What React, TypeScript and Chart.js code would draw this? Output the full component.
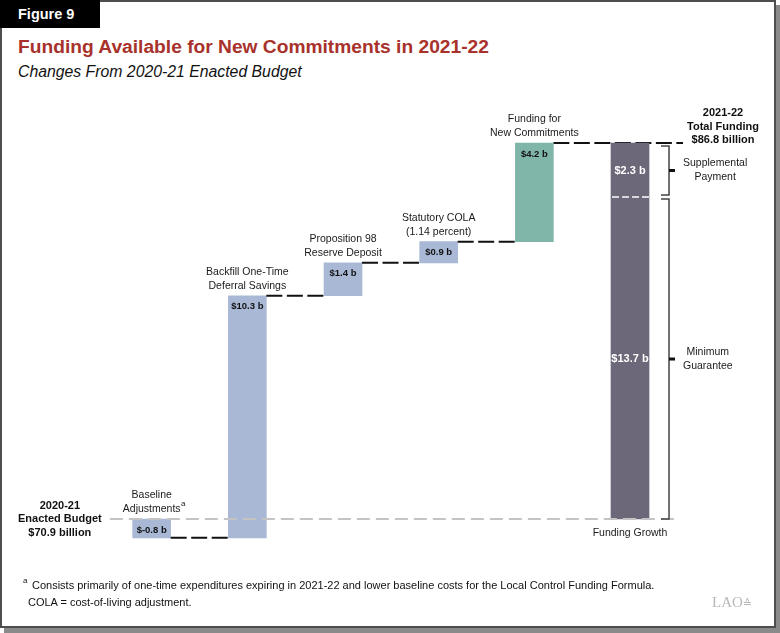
import React, { useEffect, useRef } from 'react';
import { Chart, registerables } from 'chart.js';

Chart.register(...registerables);

// ---------- data ----------
const categories = [
  'Baseline Adjustments',
  'Backfill One-Time Deferral Savings',
  'Proposition 98 Reserve Deposit',
  'Statutory COLA (1.14 percent)',
  'Funding for New Commitments',
  'Funding Growth',
];
const categoryLabelLines = [
  ['Baseline', 'Adjustments'],
  ['Backfill One-Time', 'Deferral Savings'],
  ['Proposition 98', 'Reserve Deposit'],
  ['Statutory COLA', '(1.14 percent)'],
  ['Funding for', 'New Commitments'],
  ['Funding Growth'],
];
const startingTotal = 70.9;
const changeValues = [-0.8, 10.3, 1.4, 0.9, 4.2];
const changeLabels = ['$-0.8 b', '$10.3 b', '$1.4 b', '$0.9 b', '$4.2 b'];
const growthComponents = ['Minimum Guarantee', 'Supplemental Payment'];
const growthValues = [13.7, 2.3];
const growthLabels = ['$13.7 b', '$2.3 b'];
const bracketLabelLines = [
  ['Minimum', 'Guarantee'],
  ['Supplemental', 'Payment'],
];
const startLabelLines = ['2020-21', 'Enacted Budget', '$70.9 billion'];
const endLabelLines = ['2021-22', 'Total Funding', '$86.8 billion'];
const yMin = 69;
const yMax = 89;

// ---------- derived floating bars ----------
let running = startingTotal;
const changeBars: [number, number][] = changeValues.map((v) => {
  const s = running;
  running = Math.round((running + v) * 100) / 100;
  return [s, running];
});
let growthRunning = startingTotal;
const growthBars: [number, number][] = growthValues.map((v) => {
  const s = growthRunning;
  growthRunning = Math.round((growthRunning + v) * 100) / 100;
  return [s, growthRunning];
});

const LIGHT = '#a9b8d5';
const TEAL = '#80b6aa';
const DARK = '#6d6879';
const SANS = '"Liberation Sans", Arial, Helvetica, sans-serif';

function dashed(ctx: any, x1: number, y1: number, x2: number, y2: number, color: string, width: number, dash: number[]) {
  ctx.save();
  ctx.strokeStyle = color;
  ctx.lineWidth = width;
  ctx.setLineDash(dash);
  ctx.lineCap = 'butt';
  ctx.beginPath();
  ctx.moveTo(x1, y1);
  ctx.lineTo(x2, y2);
  ctx.stroke();
  ctx.restore();
}

const decorPlugin = {
  id: 'waterfallDecor',
  beforeDatasetsDraw(chart: any) {
    const { ctx, scales } = chart;
    const x = scales.x;
    const y = scales.y;
    const meta = chart.getDatasetMeta(0);
    const half = meta.data[0].width / 2;
    const xc = (i: number) => x.getPixelForValue(i);
    const lvl = y.getPixelForValue(changeBars[4][1]);
    dashed(ctx, xc(4) + half, lvl, xc(5) + half + 34, lvl, '#111', 2, [16, 4.5]);
  },
  afterDatasetsDraw(chart: any) {
    const { ctx, scales, chartArea } = chart;
    const x = scales.x;
    const y = scales.y;
    const meta = chart.getDatasetMeta(0);
    const half = meta.data[0].width / 2;
    const xc = (i: number) => x.getPixelForValue(i);
    const y0 = y.getPixelForValue(startingTotal);

    for (let i = 0; i < changeBars.length - 1; i++) {
      const lvl = y.getPixelForValue(changeBars[i][1]);
      dashed(ctx, xc(i) + half, lvl, xc(i + 1) - half, lvl, '#111', 2, [16, 4.5]);
    }

    dashed(ctx, chartArea.left + 6, y0, xc(5) + 47, y0, '#c4c4c4', 2, [13, 6]);

    const yDiv = y.getPixelForValue(growthBars[0][1]);
    dashed(ctx, xc(5) - half + 1, yDiv, xc(5) + half, yDiv, '#d8d8de', 2, [7, 3]);

    ctx.save();
    ctx.textAlign = 'center';
    ctx.textBaseline = 'middle';

    ctx.font = `bold 9.5px ${SANS}`;
    ctx.fillStyle = '#111';
    changeBars.forEach((b, i) => {
      const top = y.getPixelForValue(Math.max(b[0], b[1]));
      ctx.fillText(changeLabels[i], xc(i), top + 11);
    });

    ctx.font = `bold 11px ${SANS}`;
    ctx.fillStyle = '#ffffff';
    growthBars.forEach((b, i) => {
      const mid = (y.getPixelForValue(b[0]) + y.getPixelForValue(b[1])) / 2;
      ctx.fillText(growthLabels[i], xc(5), mid + 1);
    });

    ctx.font = `10.5px ${SANS}`;
    ctx.fillStyle = '#1a1a1a';
    changeBars.forEach((b, i) => {
      const top = y.getPixelForValue(Math.max(b[0], b[1]));
      const lines = categoryLabelLines[i];
      lines.forEach((ln, j) => {
        const ly = top - 10 - (lines.length - 1 - j) * 13.5;
        ctx.fillText(ln, xc(i), ly);
        if (i === 0 && j === lines.length - 1) {
          const w = ctx.measureText(ln).width;
          ctx.save();
          ctx.font = `8px ${SANS}`;
          ctx.textAlign = 'left';
          ctx.fillText('a', xc(i) + w / 2 + 0.5, ly - 5);
          ctx.restore();
        }
      });
    });
    ctx.fillText(categoryLabelLines[5][0], xc(5), y0 + 14);

    ctx.font = `bold 11px ${SANS}`;
    ctx.fillStyle = '#111';
    startLabelLines.forEach((ln, j) => {
      ctx.fillText(ln, chartArea.left - 44, y0 - 13 + j * 13.3);
    });
    const yTop = y.getPixelForValue(growthBars[1][1]);
    endLabelLines.forEach((ln, j) => {
      ctx.fillText(ln, xc(5) + 93, yTop - 30 + j * 13.5);
    });

    const bx = xc(5) + 39;
    const ranges = [
      [y.getPixelForValue(growthBars[0][1]) + 2, y.getPixelForValue(growthBars[0][0])],
      [y.getPixelForValue(growthBars[1][1]) + 3, y.getPixelForValue(growthBars[1][0]) - 2],
    ];
    ctx.font = `10.5px ${SANS}`;
    ranges.forEach((r, k) => {
      ctx.save();
      ctx.strokeStyle = '#444';
      ctx.lineWidth = 1.5;
      ctx.beginPath();
      ctx.moveTo(bx - 8, r[0]);
      ctx.lineTo(bx, r[0]);
      ctx.lineTo(bx, r[1]);
      ctx.lineTo(bx - 8, r[1]);
      ctx.stroke();
      const mid = (r[0] + r[1]) / 2;
      ctx.strokeStyle = '#111';
      ctx.lineWidth = 3;
      ctx.beginPath();
      ctx.moveTo(bx, mid);
      ctx.lineTo(bx + 6, mid);
      ctx.stroke();
      ctx.restore();
      const lines = bracketLabelLines[k];
      const maxW = Math.max(...lines.map((l) => ctx.measureText(l).width));
      const cx = bx + 14 + maxW / 2;
      ctx.fillStyle = '#1a1a1a';
      lines.forEach((ln, j) => {
        ctx.fillText(ln, cx, mid - 7 + j * 14);
      });
    });

    ctx.restore();
  },
};

export default function App() {
  const canvasRef = useRef<HTMLCanvasElement | null>(null);

  useEffect(() => {
    if (!canvasRef.current) return;
    const chart = new Chart(canvasRef.current, {
      type: 'bar',
      data: {
        labels: categories,
        datasets: [
          {
            label: 'Change',
            data: [...changeBars, null] as any,
            backgroundColor: [...changeValues.map((_, i) => (i === changeValues.length - 1 ? TEAL : LIGHT)), LIGHT],
            borderWidth: 0,
          },
          ...growthComponents.map((name, k) => ({
            label: name,
            data: categories.map((_, i) => (i === categories.length - 1 ? growthBars[k] : null)) as any,
            backgroundColor: DARK,
            borderWidth: 0,
          })),
        ],
      },
      options: {
        animation: false,
        responsive: true,
        maintainAspectRatio: false,
        layout: { padding: { left: 103.85, right: 102.15, top: 93.65, bottom: 69.35 } },
        datasets: { bar: { grouped: false, barThickness: 38 } as any },
        plugins: { legend: { display: false }, tooltip: { enabled: false } },
        scales: {
          x: { type: 'category', display: false, offset: true },
          y: { type: 'linear', display: false, min: yMin, max: yMax },
        },
      },
      plugins: [decorPlugin],
    });
    return () => chart.destroy();
  }, []);

  return (
    <div style={{ position: 'absolute', left: 0, top: 0, width: 780, height: 633, background: '#fff', fontFamily: SANS, overflow: 'hidden' }}>
      <div
        style={{
          position: 'absolute', left: 0, top: 0, width: 776, height: 628,
          boxSizing: 'border-box', border: '2px solid #4e4e4e', boxShadow: '4px 5px 0 #8a8a8a', background: '#fff',
        }}
      />
      <div
        style={{
          position: 'absolute', left: 0, top: 0, width: 100, height: 28, background: '#000', color: '#fff',
          fontWeight: 'bold', fontSize: 14.5, lineHeight: '28px', paddingLeft: 18, boxSizing: 'border-box',
        }}
      >
        Figure 9
      </div>
      <div style={{ position: 'absolute', left: 18, top: 36.7, fontSize: 19.2, lineHeight: '19.2px', fontWeight: 'bold', color: '#a8322b', whiteSpace: 'nowrap' }}>
        Funding Available for New Commitments in 2021-22
      </div>
      <div style={{ position: 'absolute', left: 18, top: 63.5, fontSize: 15.8, lineHeight: '15.8px', fontStyle: 'italic', color: '#111', whiteSpace: 'nowrap' }}>
        Changes From 2020-21 Enacted Budget
      </div>
      <div style={{ position: 'absolute', left: 0, top: 0, width: 780, height: 633 }}>
        <canvas ref={canvasRef} style={{ display: 'block' }} />
      </div>
      <div style={{ position: 'absolute', left: 23, top: 577, fontSize: 8, lineHeight: '8px', color: '#111' }}>a</div>
      <div style={{ position: 'absolute', left: 32, top: 578, fontSize: 11, lineHeight: '14px', color: '#111', whiteSpace: 'nowrap' }}>
        Consists primarily of one-time expenditures expiring in 2021-22 and lower baseline costs for the Local Control Funding Formula.
      </div>
      <div style={{ position: 'absolute', left: 28, top: 595, fontSize: 11, lineHeight: '14px', color: '#111', whiteSpace: 'nowrap' }}>
        COLA = cost-of-living adjustment.
      </div>
      <div style={{ position: 'absolute', left: 712, top: 594, fontSize: 15, lineHeight: '16px', color: '#b8b8b8', fontFamily: '"Liberation Serif", serif', whiteSpace: 'nowrap' }}>
        LAO<span style={{ fontFamily: '"DejaVu Sans", sans-serif', fontSize: 11 }}>≙</span>
      </div>
    </div>
  );
}
